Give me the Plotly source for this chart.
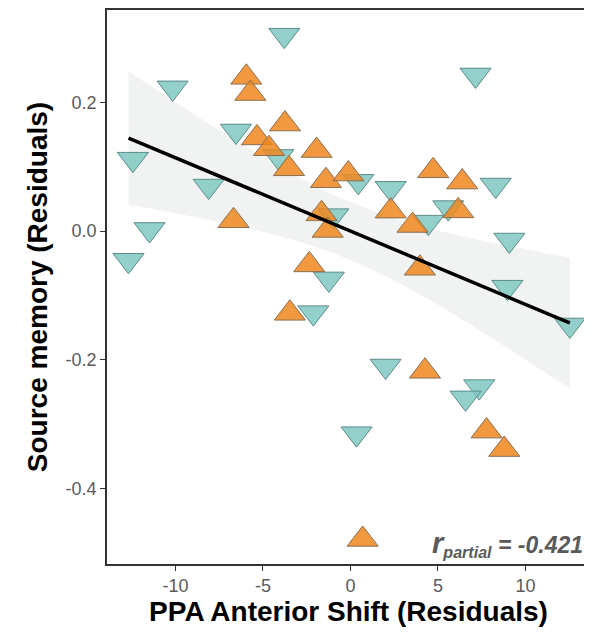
import numpy as np
import plotly.graph_objects as go

# Group A (teal, downward triangles)
teal_x = [-10.16, -6.54, -12.43, -8.10, -11.48, -12.68, -3.78, -4.12, 0.45, 2.30,
          -0.98, -1.23, 7.15, 8.30, 5.59, 4.45, 9.08, 8.97, -2.12, 2.01,
          0.35, 12.54, 7.36, 6.58]
teal_y = [0.2227, 0.1556, 0.1118, 0.070, 0.0025, -0.0454, 0.3046, 0.116, 0.0773, 0.0665,
          0.024, -0.0744, 0.2427, 0.0716, 0.0365, 0.0139, -0.0139, -0.0872, -0.1268, -0.2098,
          -0.315, -0.146, -0.2418, -0.2593]

# Group B (orange, upward triangles)
orange_x = [-5.95, -5.72, -5.34, -4.65, -6.68, -3.74, -3.51, -1.93, -1.40, -0.12,
            -1.65, -1.30, 2.30, 3.55, -2.35, 3.97, 4.73, 6.39, 6.16, -3.46,
            4.26, 0.70, 7.78, 8.79]
orange_y = [0.239, 0.2138, 0.1448, 0.128, 0.016, 0.1664, 0.0968, 0.1252, 0.0783, 0.0886,
            0.0268, 0.001, 0.031, 0.0087, -0.0526, -0.0578, 0.0937, 0.0762, 0.0314, -0.1279,
            -0.218, -0.4794, -0.311, -0.3397]

x_ticks = [-10, -5, 0, 5, 10]
y_ticks = [-0.4, -0.2, 0.0, 0.2]
y_tick_labels = ["-0.4", "-0.2", "0.0", "0.2"]
r_partial = -0.421

# Linear fit with 95% confidence band
xa = np.array(teal_x + orange_x)
ya = np.array(teal_y + orange_y)
n = len(xa)
b1, b0 = np.polyfit(xa, ya, 1)
xs = np.linspace(xa.min(), xa.max(), 80)
fit = b0 + b1 * xs
resid = ya - (b0 + b1 * xa)
s = np.sqrt(np.sum(resid ** 2) / (n - 2))
sxx = np.sum((xa - xa.mean()) ** 2)
se = s * np.sqrt(1.0 / n + (xs - xa.mean()) ** 2 / sxx)
tval = 2.0129
lo = fit - tval * se
hi = fit + tval * se

FONT = "Arial, Liberation Sans, sans-serif"

fig = go.Figure()
fig.add_trace(go.Scatter(
    x=np.concatenate([xs, xs[::-1]]), y=np.concatenate([hi, lo[::-1]]),
    fill="toself", fillcolor="rgba(222,228,224,0.45)", line=dict(width=0),
    hoverinfo="skip", showlegend=False))
fig.add_trace(go.Scatter(
    x=teal_x, y=teal_y, mode="markers",
    marker=dict(symbol="triangle-down", size=27, color="rgba(128,200,194,0.85)",
                line=dict(color="#5b8c89", width=1)),
    showlegend=False))
fig.add_trace(go.Scatter(
    x=orange_x, y=orange_y, mode="markers",
    marker=dict(symbol="triangle-up", size=27, color="rgba(240,135,30,0.85)",
                line=dict(color="#8a6e52", width=1)),
    showlegend=False))
fig.add_trace(go.Scatter(
    x=xs, y=fit, mode="lines", line=dict(color="black", width=3.5),
    hoverinfo="skip", showlegend=False))

fig.add_annotation(
    x=1, y=0, xref="paper", yref="paper", xanchor="right", yanchor="bottom",
    xshift=-5, yshift=1, showarrow=False,
    text=("<b><i><span style='font-size:29px'>r</span></i>"
          "<sub><i>partial</i></sub><i> = %.3f</i></b>" % r_partial),
    font=dict(family=FONT, size=23, color="#5a5a5a"))

axis_common = dict(
    showline=True, linecolor="#333333", linewidth=1.5, mirror=True,
    ticks="outside", ticklen=5, tickcolor="#333333", tickwidth=1.2,
    showgrid=False, zeroline=False,
    tickfont=dict(family=FONT, size=18, color="#5a5a5a"),
)
fig.update_xaxes(
    range=[-13.91, 13.69], tickvals=x_ticks, ticktext=[str(v) for v in x_ticks],
    title=dict(text="<b>PPA Anterior Shift (Residuals)</b>", standoff=4,
               font=dict(family=FONT, size=28, color="black")),
    **axis_common)
fig.update_yaxes(
    range=[-0.5176, 0.3437], tickvals=y_ticks, ticktext=y_tick_labels,
    title=dict(text="<b>Source memory (Residuals)</b>", standoff=10,
               font=dict(family=FONT, size=28, color="black")),
    **axis_common)
fig.update_layout(
    width=592, height=633, margin=dict(l=99, r=10, t=0, b=77),
    plot_bgcolor="white", paper_bgcolor="white")
fig.write_html("out.html")
